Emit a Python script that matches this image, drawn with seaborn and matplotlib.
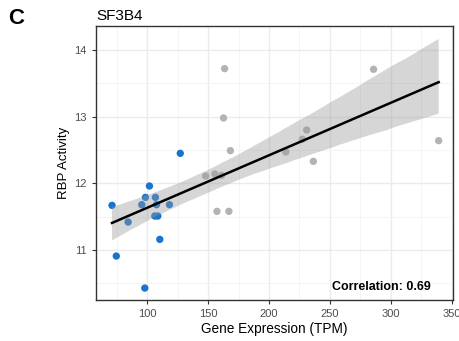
import seaborn as sns
import pandas as pd
import numpy as np
import matplotlib
matplotlib.use("Agg")
import matplotlib.pyplot as plt
import matplotlib.ticker as ticker

# Low-expression samples (blue)
blue_tpm = [71.2, 74.7, 84.4, 98.1, 101.9, 95.6, 98.6, 106.8, 107.7, 106.3, 108.8, 110.4, 118.3, 127.2]
blue_act = [11.67, 10.91, 11.42, 10.43, 11.96, 11.68, 11.79, 11.79, 11.68, 11.51, 11.51, 11.16, 11.68, 12.45]

# Other samples (grey)
grey_tpm = [163.6, 162.7, 168.3, 285.8, 339.2, 230.9, 227.3, 213.8, 236.4, 148.0, 155.6, 161.1, 157.3, 167.1]
grey_act = [13.72, 12.98, 12.49, 13.71, 12.64, 12.80, 12.66, 12.47, 12.33, 12.11, 12.14, 12.12, 11.58, 11.58]

gene = "SF3B4"
corr_label = "Correlation: 0.69"

df = pd.DataFrame({
    "tpm": blue_tpm + grey_tpm,
    "act": blue_act + grey_act,
    "group": ["low"] * len(blue_tpm) + ["other"] * len(grey_tpm),
})

plt.rcParams["font.family"] = ["Liberation Sans", "DejaVu Sans"]

fig = plt.figure(figsize=(4.59, 3.41), dpi=100)
ax = fig.add_axes([0.209, 0.12, 0.778, 0.804])

# grid like theme_bw
ax.set_axisbelow(True)
ax.xaxis.set_major_locator(ticker.MultipleLocator(50))
ax.xaxis.set_minor_locator(ticker.MultipleLocator(25))
ax.yaxis.set_major_locator(ticker.MultipleLocator(1))
ax.yaxis.set_minor_locator(ticker.MultipleLocator(0.5))
ax.grid(which="major", color="#EBEBEB", linewidth=1.0)
ax.grid(which="minor", color="#F2F2F2", linewidth=0.6)

sns.scatterplot(data=df, x="tpm", y="act", hue="group",
                palette={"low": "#1874CD", "other": "#B3B3B3"},
                s=28, linewidth=0, legend=False, ax=ax, zorder=1)

# bootstrap band comes out a bit wider than lm's, so narrow the level a little
sns.regplot(data=df, x="tpm", y="act", scatter=False, ci=88, seed=0, color="black",
            line_kws={"linewidth": 1.8, "zorder": 3}, ax=ax)
band = ax.collections[-1]
band.set_facecolor("#999999")
band.set_alpha(0.4)
band.set_edgecolor("none")
band.set_zorder(2)

ax.set_xlim(58, 351)
ax.set_ylim(10.25, 14.36)

ax.text(292, 10.445, corr_label, ha="center", va="center", fontsize=9,
        fontweight="bold", color="black")

for s in ax.spines.values():
    s.set_color("#333333")
    s.set_linewidth(1.0)
ax.tick_params(which="major", length=3, width=0.8, color="#333333",
               labelcolor="#4D4D4D", labelsize=8)
ax.tick_params(which="minor", length=0)

ax.set_xlabel("Gene Expression (TPM)", fontsize=9.8, color="black", labelpad=2)
ax.set_ylabel("RBP Activity", fontsize=9.5, color="black", labelpad=3)
ax.set_title(gene, loc="left", fontsize=11, pad=4)

fig.text(0.018, 0.945, "C", fontsize=16, fontweight="bold", va="center")

fig.savefig("out.png", dpi=100)
